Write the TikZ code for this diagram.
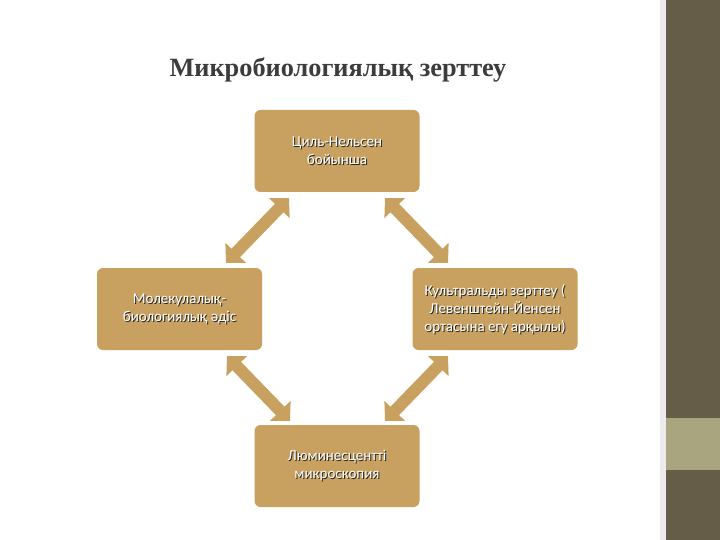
\documentclass[tikz,border=0pt]{standalone}
\usepackage{fontspec}
\setmainfont{Liberation Serif}
\newfontfamily\boxfont{Carlito}
\usetikzlibrary{arrows.meta}
\definecolor{boxc}{RGB}{200,160,95}
\definecolor{stripdark}{RGB}{101,93,72}
\definecolor{stripbar}{RGB}{169,166,127}
\definecolor{stripedge}{RGB}{238,235,238}
\definecolor{titlec}{RGB}{60,60,60}
\tikzset{
  box/.style={draw=none, fill=boxc, rounded corners=6pt, minimum width=165pt, minimum height=82pt, inner sep=0pt},
  lbl/.style={text=white, font=\boxfont\fontsize{15}{18}\selectfont, align=center},
  lblsh/.style={text=black!85, font=\boxfont\fontsize{15}{18}\selectfont, align=center},
  dbl/.style={draw=boxc, line width=12pt, {Triangle[width=28pt,length=14pt]}-{Triangle[width=28pt,length=14pt]}, shorten <=0pt, shorten >=0pt}
}
\begin{document}
\begin{tikzpicture}[x=1pt,y=-1pt]
\useasboundingbox (0,0) rectangle (720,540);
\fill[white] (0,0) rectangle (720,540);
% right strip
\fill[stripedge] (660,0) rectangle (666,540);
\fill[stripdark] (666,0) rectangle (720,540);
\fill[stripbar] (666,418) rectangle (720,470);
% title
\node[text=titlec, font=\bfseries\fontsize{26.3}{30}\selectfont] (title) at (338,70) {Микробиологиялық зерттеу};
% boxes
\node[box] (top) at (337,151) {};
\node[box] (left) at (179.5,309) {};
\node[box] (right) at (495,309) {};
\node[box] (bot) at (337,466) {};
% labels with shadow
\node[lblsh] (topS) at ([shift={(1,1)}]top.center) {Циль-Нельсен\\бойынша};
\node[lbl] (topL) at (top.center) {Циль-Нельсен\\бойынша};
\node[lblsh] (leftS) at ([shift={(1,1)}]left.center) {Молекулалық-\\биологиялық әдіс};
\node[lbl] (leftL) at (left.center) {Молекулалық-\\биологиялық әдіс};
\node[lblsh] (rightS) at ([shift={(1,1)}]right.center) {Культральды зерттеу (\\Левенштейн-Йенсен\\ортасына егу арқылы)};
\node[lbl] (rightL) at (right.center) {Культральды зерттеу (\\Левенштейн-Йенсен\\ортасына егу арқылы)};
\node[lblsh] (botS) at ([shift={(1,1)}]bot.center) {Люминесцентті\\микроскопия};
\node[lbl] (botL) at (bot.center) {Люминесцентті\\микроскопия};
% arrow end points
\coordinate (a1) at (289,198); \coordinate (a2) at (226,263);
\coordinate (b1) at (385,198); \coordinate (b2) at (448,263);
\coordinate (c1) at (227,356); \coordinate (c2) at (290,421);
\coordinate (d1) at (448,356); \coordinate (d2) at (385,421);
\draw[dbl] (a1) -- (a2);
\draw[dbl] (b1) -- (b2);
\draw[dbl] (c1) -- (c2);
\draw[dbl] (d1) -- (d2);
\end{tikzpicture}
\end{document}
